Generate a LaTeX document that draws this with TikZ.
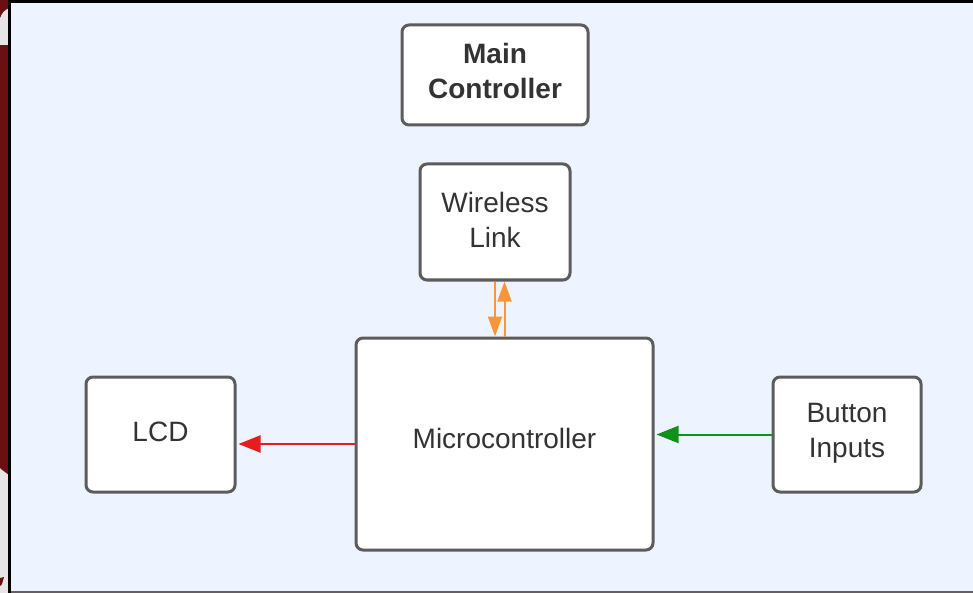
\documentclass[tikz,border=0pt]{standalone}
\usepackage{fontspec}
\setmainfont{Liberation Sans}
\usetikzlibrary{arrows.meta}
\definecolor{pagebg}{HTML}{EDF4FF}
\definecolor{boxline}{HTML}{5C5C5C}
\definecolor{txt}{HTML}{333333}
\definecolor{linkorange}{HTML}{F9963A}
\definecolor{lcdred}{HTML}{E51D1D}
\definecolor{btngreen}{HTML}{12911A}
\definecolor{strip}{HTML}{6C0F12}
\definecolor{stripgray}{HTML}{E6E4E4}
\tikzset{
  block/.style={draw=boxline, line width=3pt, fill=white, rounded corners=7pt,
    text=txt, align=center, inner sep=0pt,
    font=\fontsize{28}{35}\selectfont},
  flow/.style={line width=2pt, -{Triangle[length=22pt,width=17pt]}},
  linkflow/.style={line width=2pt, draw=linkorange, -{Triangle[length=20pt,width=14pt]}},
}
\begin{document}
\begin{tikzpicture}[x=1pt,y=-1pt]
  \useasboundingbox (0,0) rectangle (973,593);
  % window edge and backdrop
  \fill[stripgray] (0,0) rectangle (9,593);
  \fill[strip] (0,45) rectangle (9,465);
  \fill[strip] (0,0) -- (9,0) -- (9,8) .. controls (5,10) and (2,12) .. (0,18) -- cycle;
  \fill[strip] (0,440) -- (9,440) -- (9,475) .. controls (5,472) and (2,470) .. (0,468) -- cycle;
  \fill[strip] (0,578) -- (4,577) -- (2,584) -- (0,586) -- cycle;
  \fill[pagebg] (11,3) rectangle (973,591);
  \fill[black] (8,0) rectangle (11,593);
  \fill[black] (8,0) rectangle (973,3);
  \draw[line width=1.5pt, color={rgb,255:red,106;green,92;blue,98}] (11,592) -- (973,592);

  % blocks
  \node[block, minimum width=186pt, minimum height=100pt, text depth=8pt,
        font=\fontsize{28}{35}\selectfont\bfseries]
    (main) at (495,75) {Main\\Controller};
  \node[block, minimum width=150pt, minimum height=116pt, text depth=5pt] (wl) at (495,222) {Wireless\\Link};
  \node[block, minimum width=297pt, minimum height=212pt, text depth=12pt] (mc) at (504.5,444) {Microcontroller};
  \node[block, minimum width=149pt, minimum height=115pt, text depth=5pt] (lcd) at (160.5,434.5) {LCD};
  \node[block, minimum width=148pt, minimum height=115pt, text depth=8pt] (bi) at (847,434.5) {Button\\Inputs};

  % connectors
  \draw[linkflow] (wl.south) -- (wl.south |- mc.north);
  \draw[linkflow] (mc.north) -- (mc.north |- wl.south);
  \draw[flow, draw=lcdred, shorten >=2pt] (mc.west) -- (mc.west -| lcd.east);
  \draw[flow, draw=btngreen, shorten >=2pt] (bi.west) -- (bi.west -| mc.east);
\end{tikzpicture}
\end{document}
